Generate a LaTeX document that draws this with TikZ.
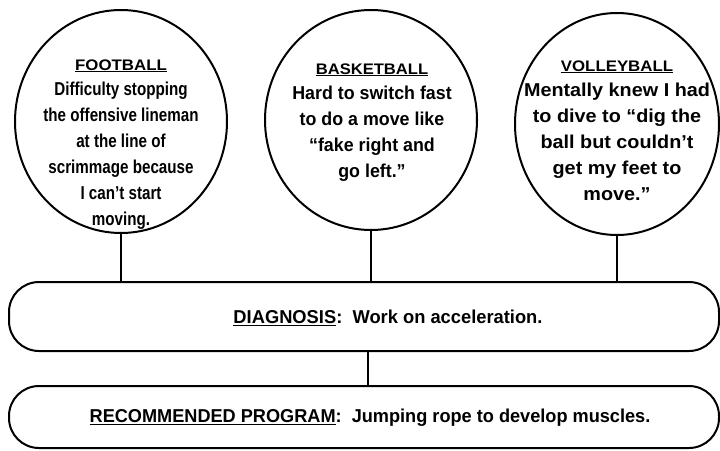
\documentclass[tikz,border=0pt]{standalone}
\usepackage{fontspec}
\setmainfont{Liberation Sans}
\usepackage{graphicx}
\usetikzlibrary{shapes.geometric}
\newcommand\myul[1]{{\setbox0\hbox{#1}\rlap{\rule[-2.4pt]{\wd0}{1.3pt}}\box0}}
% #1 body xscale, #2 title xscale factor, #3 title, #4 body rows
\newcommand\sportlines[4]{\scalebox{#1}[1.13]{\fontsize{16.5pt}{23pt}\selectfont\bfseries
  \begin{tabular}[t]{@{}c@{}}\scalebox{#2}[0.82]{\myul{#3}}\\ #4\end{tabular}}}
\tikzset{
  sport/.style={ellipse, draw=black, line width=2pt, inner sep=0pt},
  stxt/.style={inner sep=0pt, anchor=base},
  bar/.style={rectangle, draw=black, line width=2pt, rounded corners=30pt, minimum width=710pt, inner sep=0pt},
  btxt/.style={inner sep=0pt, font=\fontsize{16.5pt}{20pt}\selectfont\bfseries},
  conn/.style={draw=black, line width=1.7pt},
}
\begin{document}
\begin{tikzpicture}[x=1pt,y=-1pt]
\useasboundingbox (0,0) rectangle (720,450);
% circles
\node[sport, minimum width=212pt, minimum height=223pt] (fb) at (121,121.5) {};
\node[sport, minimum width=212pt, minimum height=220pt] (bk) at (371,120) {};
\node[sport, minimum width=204pt, minimum height=222pt] (vb) at (617,124) {};
% circle texts
\node[stxt] (fbt) at (121,70) {\sportlines{0.92}{1.11}{FOOTBALL}{Difficulty stopping\\ the offensive lineman\\ at the line of\\ scrimmage because\\ I can't start\\ moving.}};
\node[stxt] (bkt) at (372,74) {\sportlines{1.08}{0.93}{BASKETBALL}{Hard to switch fast\\ to do a move like\\ “fake right and\\ go left.”}};
\node[stxt] (vbt) at (617,71) {\sportlines{1.2}{0.85}{VOLLEYBALL}{Mentally knew I had\\ to dive to “dig the\\ ball but couldn't\\ get my feet to\\ move.”}};
% bars
\node[bar, minimum height=69pt] (diag) at (364,316.5) {};
\node[bar, minimum height=62pt] (rec) at (364,417) {};
\node[btxt] (diagt) at (388,318) {\scalebox{1.11}[1.13]{\myul{DIAGNOSIS}:\ \ Work on acceleration.}};
\node[btxt] (rect) at (370,418) {\scalebox{1.1}[1.13]{\myul{RECOMMENDED PROGRAM}:\ \ Jumping rope to develop muscles.}};
% connectors
\coordinate (mid) at (368,0);
\draw[conn] (fb.south) -- (fb.south |- diag.north);
\draw[conn] (bk.south) -- (bk.south |- diag.north);
\draw[conn] (vb.south) -- (vb.south |- diag.north);
\draw[conn] (diag.south -| mid) -- (rec.north -| mid);
\end{tikzpicture}
\end{document}
